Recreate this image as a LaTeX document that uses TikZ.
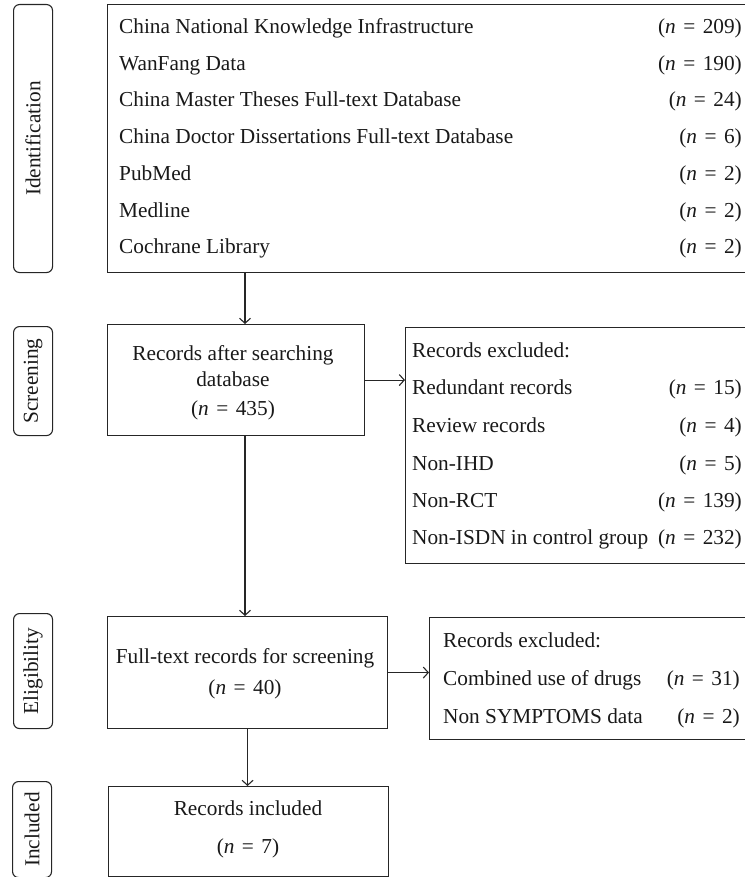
\documentclass[tikz,border=0pt]{standalone}
\usepackage{fontspec}
\setmainfont{Liberation Serif}
\usetikzlibrary{arrows.meta}
\newcommand{\nval}[1]{(\textit{n}\hspace{0.1em} = \hspace{0.1em}#1)}
\begin{document}
\begin{tikzpicture}[x=1pt,y=-1pt,
  box/.style={draw=black!85, line width=1.1pt, anchor=north west, inner sep=0pt},
  lab/.style={draw=black!85, line width=1.1pt, rounded corners=6pt, anchor=north west, inner sep=0pt, minimum width=39pt},
  txt/.style={inner sep=0pt, anchor=base west, font=\fontsize{21.3}{25}\selectfont, text=black!90},
  val/.style={txt, anchor=base east},
  ctr/.style={txt, anchor=base},
  rot/.style={inner sep=0pt, rotate=90, font=\fontsize{21.3}{24}\selectfont, text=black!90},
  arr/.style={draw=black!85, line width=1.1pt, -{Straight Barb[length=5pt,width=11pt]}}]
\useasboundingbox (0,0) rectangle (744,877);

% stage labels
\node[lab, minimum height=268pt] (lid) at (13,4) {};
\node[rot] (tid) at (lid.center) {Identification};
\node[lab, minimum height=109pt] (lsc) at (13,326) {};
\node[rot] (tsc) at (lsc.center) {Screening};
\node[lab, minimum height=115pt] (lel) at (13,613) {};
\node[rot] (tel) at (lel.center) {Eligibility};
\node[lab, minimum height=96pt] (lin) at (12,781) {};
\node[rot] (tin) at (lin.center) {Included};

% identification box
\node[box, minimum width=640pt, minimum height=268pt] (top) at (107,4) {};
\node[txt] (a1) at (119,34) {China National Knowledge Infrastructure};
\node[val] (v1) at (742,34) {\nval{209}};
\node[txt] (a2) at (119,71) {WanFang Data};
\node[val] (v2) at (742,71) {\nval{190}};
\node[txt] (a3) at (119,107) {China Master Theses Full-text Database};
\node[val] (v3) at (742,107) {\nval{24}};
\node[txt] (a4) at (119,144) {China Doctor Dissertations Full-text Database};
\node[val] (v4) at (742,144) {\nval{6}};
\node[txt] (a5) at (119,181) {PubMed};
\node[val] (v5) at (742,181) {\nval{2}};
\node[txt] (a6) at (119,218) {Medline};
\node[val] (v6) at (742,218) {\nval{2}};
\node[txt] (a7) at (119,254) {Cochrane Library};
\node[val] (v7) at (742,254) {\nval{2}};

% screening
\node[box, minimum width=257pt, minimum height=111pt] (scr) at (107,324) {};
\node[ctr] (s1) at (233,360) {Records after searching};
\node[ctr] (s2) at (233,386) {database};
\node[ctr] (s3) at (233,415) {\nval{435}};

\node[box, minimum width=342pt, minimum height=236pt] (ex1) at (405,327) {};
\node[txt] (e0) at (412,357) {Records excluded:};
\node[txt] (e1) at (412,394) {Redundant records};
\node[val] (f1) at (742,394) {\nval{15}};
\node[txt] (e2) at (412,432) {Review records};
\node[val] (f2) at (742,432) {\nval{4}};
\node[txt] (e3) at (412,470) {Non-IHD};
\node[val] (f3) at (742,470) {\nval{5}};
\node[txt] (e4) at (412,507) {Non-RCT};
\node[val] (f4) at (742,507) {\nval{139}};
\node[txt] (e5) at (412,544) {Non-ISDN in control group};
\node[val] (f5) at (742,544) {\nval{232}};

% eligibility
\node[box, minimum width=280pt, minimum height=112pt] (eli) at (107,616) {};
\node[ctr] (g1) at (245,663) {Full-text records for screening};
\node[ctr] (g2) at (245,694) {\nval{40}};

\node[box, minimum width=318pt, minimum height=122pt] (ex2) at (429,617) {};
\node[txt] (h0) at (443,647) {Records excluded:};
\node[txt] (h1) at (443,685) {Combined use of drugs};
\node[val] (k1) at (740,685) {\nval{31}};
\node[txt] (h2) at (443,723) {Non SYMPTOMS data};
\node[val] (k2) at (740,723) {\nval{2}};

% included
\node[box, minimum width=280pt, minimum height=90pt] (inc) at (108,786) {};
\node[ctr] (i1) at (248,815) {Records included};
\node[ctr] (i2) at (248,853) {\nval{7}};

% connectors
\draw[arr] ([xshift=138pt]top.south west) -- ([xshift=138pt]scr.north west);
\draw[arr] (scr.east) -- (scr.east -| ex1.west);
\draw[arr] ([xshift=138pt]scr.south west) -- ([xshift=138pt]eli.north west);
\draw[arr] (eli.east) -- (eli.east -| ex2.west);
\draw[arr] (eli.south) -- (eli.south |- inc.north);
\end{tikzpicture}
\end{document}
